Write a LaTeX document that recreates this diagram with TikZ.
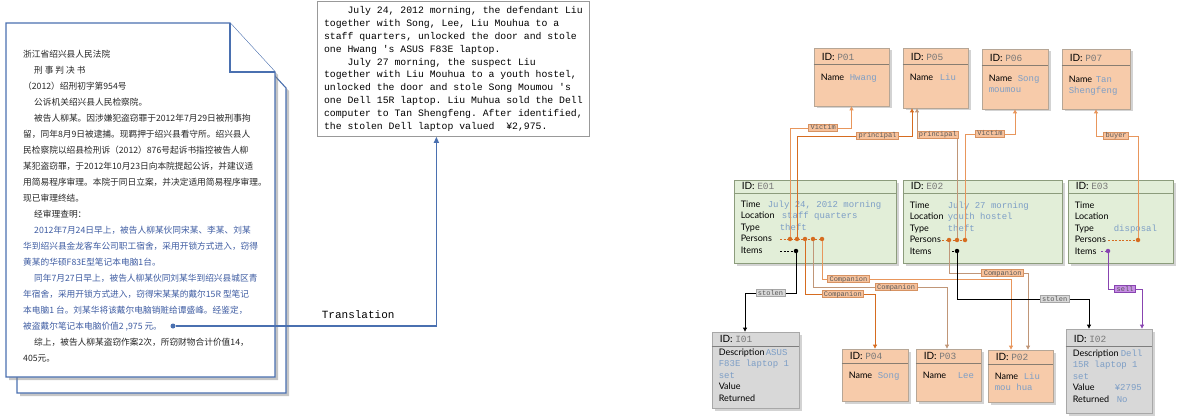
\documentclass[tikz,border=0pt]{standalone}
\usepackage{fontspec}
\setmainfont{Lato}
\setmonofont{Liberation Mono}
\newfontfamily\cjk{Noto Sans CJK SC}
\usetikzlibrary{arrows.meta,shadows,fit}

\definecolor{docblue}{RGB}{74,112,176}
\definecolor{cjkblue}{RGB}{62,92,162}
\definecolor{pfill}{RGB}{247,203,170}
\definecolor{pline}{RGB}{182,166,150}
\definecolor{efill}{RGB}{226,238,216}
\definecolor{eline}{RGB}{140,156,124}
\definecolor{ifill}{RGB}{216,216,216}
\definecolor{iline}{RGB}{168,168,168}
\definecolor{valc}{RGB}{125,158,198}
\definecolor{idc}{RGB}{120,120,120}
\definecolor{orng}{RGB}{214,108,32}
\definecolor{lorng}{RGB}{232,150,92}
\definecolor{linktan}{RGB}{192,150,120}
\definecolor{tagfill}{RGB}{247,194,156}
\definecolor{tagline}{RGB}{214,146,98}
\definecolor{purp}{RGB}{136,68,176}
\definecolor{purpfill}{RGB}{198,142,228}

\newcommand{\vtxt}[1]{{\ttfamily\fontsize{9}{11.5}\selectfont\color{valc}#1}}
\newcommand{\idv}[1]{{\ttfamily\fontsize{9.5}{10}\selectfont\color{idc}#1}}
% name, look, top left, bottom right, id, rows, rule offset, rows offset
\newcommand{\entbox}[8]{%
  \node[#2, fit={(#3) (#4)}, inner sep=0pt] (#1) {};
  \draw[#2 sep] ([yshift=-#7pt]#1.north west) -- ([yshift=-#7pt]#1.north east);
  \node[idtext] (#1-id) at ([xshift=8pt,yshift=4pt-#7pt]#1.north west) {ID: \idv{#5}};
  \node[rowtext] (#1-rows) at ([xshift=7pt,yshift=-#8pt]#1.north west) {#6};
}

\tikzset{
  sheet/.style={draw=docblue, fill=white, line width=1.1pt, drop shadow={shadow xshift=3pt, shadow yshift=-3pt, opacity=.45}},
  fold/.style={draw=docblue, fill=white, line width=1.1pt},
  person/.style={draw=pline, fill=pfill, line width=.8pt, drop shadow={shadow xshift=2.5pt, shadow yshift=-2.5pt, opacity=.35}},
  person sep/.style={draw=pline!75!black, line width=.8pt},
  event/.style={person, draw=eline, fill=efill},
  event sep/.style={draw=eline, line width=.8pt},
  item/.style={person, draw=iline, fill=ifill},
  item sep/.style={draw=iline!75!black, line width=.8pt},
  idtext/.style={anchor=base west, inner sep=0pt, font=\fontsize{10}{11}\selectfont},
  rowtext/.style={anchor=north west, inner sep=0pt, align=left, font=\fontsize{9}{11.5}\selectfont},
  dot/.style={circle, fill=orng, inner sep=0pt, minimum size=4.5pt},
  lead/.style={draw=orng, dashed, dash pattern=on 2pt off 1.5pt, line width=.8pt},
  link/.style={draw=orng, line width=.8pt, -{Triangle[length=4pt,width=4pt]}},
  tag/.style={draw=tagline, fill=tagfill, text=black!65, font=\ttfamily\fontsize{7}{7}\selectfont, inner xsep=2pt, inner ysep=.8pt, text height=4.5pt, text depth=.5pt},
  stolentag/.style={tag, draw=gray!70, fill=gray!30},
  selltag/.style={tag, draw=purp, fill=purpfill}
}

\begin{document}
\begin{tikzpicture}[x=1pt, y=-1pt]
\useasboundingbox (0,0) rectangle (1178,417);

\draw[sheet] (17,39) -- (241,39) -- (286,88) -- (286,393) -- (17,393) -- cycle;
\draw[sheet] (6,23) -- (230,23) -- (275,72) -- (275,377) -- (6,377) -- cycle;
\draw[fold] (230,23) -- (230,72) -- (275,72);

\node[anchor=north west, inner sep=0pt, align=left, text=black!85, font=\cjk\fontsize{8.7}{16}\selectfont] (doctext) at (23,50) {%
浙江省绍兴县人民法院\\
\hspace*{11pt}刑 事 判 决 书\\
（2012）绍刑初字第954号\\
\hspace*{11pt}公诉机关绍兴县人民检察院。\\
\hspace*{11pt}被告人柳某。因涉嫌犯盗窃罪于2012年7月29日被刑事拘\\
留，同年8月9日被逮捕。现羁押于绍兴县看守所。绍兴县人\\
民检察院以绍县检刑诉（2012）876号起诉书指控被告人柳\\
某犯盗窃罪，于2012年10月23日向本院提起公诉，并建议适\\
用简易程序审理。本院于同日立案，并决定适用简易程序审理。\\
现已审理终结。\\
\hspace*{11pt}经审理查明：\\
{\color{cjkblue}\hspace*{11pt}2012年7月24日早上，被告人柳某伙同宋某、李某、刘某}\\
{\color{cjkblue}华到绍兴县金龙客车公司职工宿舍，采用开锁方式进入，窃得}\\
{\color{cjkblue}黄某的华硕F83E型笔记本电脑1台。}\\
{\color{cjkblue}\hspace*{11pt}同年7月27日早上，被告人柳某伙同刘某华到绍兴县城区青}\\
{\color{cjkblue}年宿舍，采用开锁方式进入，窃得宋某某的戴尔15R 型笔记}\\
{\color{cjkblue}本电脑1 台。刘某华将该戴尔电脑销赃给谭盛峰。经鉴定，}\\
{\color{cjkblue}被盗戴尔笔记本电脑价值2 ,975 元。}\\
\hspace*{11pt}综上，被告人柳某盗窃作案2次，所窃财物合计价值14，\\
405元。};
\node[dot, fill=docblue, minimum size=5pt] (src) at (173,326) {};

\node[draw=gray!80, fill=white, line width=.8pt, minimum width=272pt, minimum height=135pt, align=left, font=\ttfamily\fontsize{9.8}{12.8}\selectfont, anchor=north west] (trans) at (317,1) {%
\hspace*{2.4em}July 24, 2012 morning, the defendant Liu\\
together with Song, Lee, Liu Mouhua to a\\
staff quarters, unlocked the door and stole\\
one Hwang 's ASUS F83E laptop.\\
\hspace*{2.4em}July 27 morning, the suspect Liu\\
together with Liu Mouhua to a youth hostel,\\
unlocked the door and stole Song Moumou 's\\
one Dell 15R laptop. Liu Muhua sold the Dell\\
computer to Tan Shengfeng. After identified,\\
the stolen Dell laptop valued\ \ ¥2,975.};
\draw[docblue, line width=1.2pt, -{Triangle[length=6pt,width=5pt]}] (src) -| node[pos=.35, above=7pt, inner sep=0pt, text=black, font=\ttfamily\fontsize{11}{11}\selectfont] {Translation} ([xshift=-17pt]trans.south);

\entbox{p01}{person}{814,48}{889,106}{P01}{\makebox[29pt][l]{Name}\vtxt{Hwang}}{17}{26}
\entbox{p05}{person}{903,48}{968,108}{P05}{\makebox[30pt][l]{Name}\vtxt{Liu}}{17}{26}
\entbox{p06}{person}{982,49}{1048,109}{P06}{\makebox[29pt][l]{Name}\vtxt{Song}\\\vtxt{moumou}}{17}{26}
\entbox{p07}{person}{1062,49}{1130,109}{P07}{\makebox[27pt][l]{Name}\vtxt{Tan}\\\vtxt{Shengfeng}}{17}{27}

\entbox{e01}{event}{734,180}{896,263}{E01}{\makebox[27pt][l]{Time}\vtxt{July 24, 2012 morning}\\\makebox[41pt][l]{Location}\vtxt{staff quarters}\\\makebox[39pt][l]{Type}\vtxt{theft}\\Persons\\Items}{14}{21}
\entbox{e02}{event}{903,180}{1062,263}{E02}{\makebox[38pt][l]{Time}\vtxt{July 27 morning}\\\makebox[38pt][l]{Location}\vtxt{youth hostel}\\\makebox[38pt][l]{Type}\vtxt{theft}\\Persons\\Items}{14}{22}
\entbox{e03}{event}{1068,180}{1173,263}{E03}{Time\\Location\\\makebox[39pt][l]{Type}\vtxt{disposal}\\Persons\\Items}{14}{22}

\entbox{i01}{item}{712,332}{799,408}{I01}{\makebox[47pt][l]{Description}\vtxt{ASUS}\\\vtxt{F83E laptop 1}\\\vtxt{set}\\Value\\Returned}{15}{17}
\entbox{i02}{item}{1066,329}{1152,413}{I02}{\makebox[48pt][l]{Description}\vtxt{Dell}\\\vtxt{15R laptop 1}\\\vtxt{set}\\\makebox[42pt][l]{Value}\vtxt{¥2795}\\\makebox[44pt][l]{Returned}\vtxt{No}}{18}{21}

\entbox{p04}{person}{842,349}{908,401}{P04}{\makebox[29pt][l]{Name}\vtxt{Song}}{15}{23}
\entbox{p03}{person}{916,349}{981,401}{P03}{\makebox[35pt][l]{Name}\vtxt{Lee}}{15}{23}
\entbox{p02}{person}{988,350}{1053,402}{P02}{\makebox[29pt][l]{Name}\vtxt{Liu}\\\vtxt{mou hua}}{15}{23}

\coordinate (e01ps) at (780,239);
\coordinate (e01is) at (780,251);
\coordinate (e02ps) at (942,240);
\coordinate (e02is) at (952,251);
\coordinate (e03ps) at (1108,240);
\coordinate (e03is) at (1101,251);

\node[dot] (e1a) at (790,239) {};
\node[dot] (e1b) at (797,239) {};
\node[dot] (e1c) at (805,239) {};
\node[dot] (e1d) at (813,239) {};
\node[dot] (e1e) at (822,239) {};
\node[dot, fill=black] (e1i) at (796,251) {};
\node[dot] (e2a) at (949,240) {};
\node[dot] (e2b) at (957,240) {};
\node[dot] (e2c) at (965,240) {};
\node[dot, fill=black] (e2i) at (957,251) {};
\node[dot] (e3a) at (1138,240) {};
\node[dot, fill=purp] (e3i) at (1108,251) {};

\draw[lead] (e01ps) -- (e1e);
\draw[lead, draw=black] (e01is) -- (e1i);
\draw[lead] (e02ps) -- (e2c);
\draw[lead, draw=black] (e02is) -- (e2i);
\draw[lead] (e03ps) -- (e3a);
\draw[lead, draw=purp] (e03is) -- (e3i);

\draw[link, draw=lorng] (e1a) -- ++(0,-111) -| node[tag, pos=.27] {Victim} (p01.south);
\draw[link] (e1b) -- ++(0,-103) -| node[tag, pos=.35] {principal} ([xshift=-23.5pt]p05.south);
\draw[link, draw=linktan] (e2b) -- ++(0,-105) -| node[tag, pos=.24] {principal} ([xshift=-18.5pt]p05.south);
\draw[link, draw=lorng] (e2c) -- ++(0,-106) -| node[tag, pos=.25] {Victim} (p06.south);
\draw[link, draw=lorng] (e3a) -- ++(0,-104) -| node[tag, pos=.26] {buyer} (p07.south);

\draw[link] (e1c) -- ++(0,55) -| node[tag, pos=.27] {Companion} (p04.north);
\draw[link, draw=linktan] (e1d) -- ++(0,48) -| node[tag, pos=.31] {Companion} ([xshift=-1.5pt]p03.north);
\draw[link, draw=lorng] (e1e) -- ++(0,40) -| node[tag, pos=.07] {Companion} ([xshift=-9.5pt]p02.north);
\draw[link, draw=linktan] (e2a) -- ++(0,33) -| node[tag, pos=.34] {Companion} ([xshift=7.5pt]p02.north);

\draw[link, draw=black] (e1i) -- ++(0,42) -| node[stolentag, pos=.25] {stolen} ([xshift=-10.5pt]i01.north);
\draw[link, draw=black] (e2i) -- ++(0,48) -| node[stolentag, pos=.37] {stolen} ([xshift=-20pt]i02.north);
\draw[link, draw=purp] (e3i) -- ++(0,38) -| node[selltag, pos=.25] {sell} ([xshift=33pt]i02.north);
\end{tikzpicture}
\end{document}
